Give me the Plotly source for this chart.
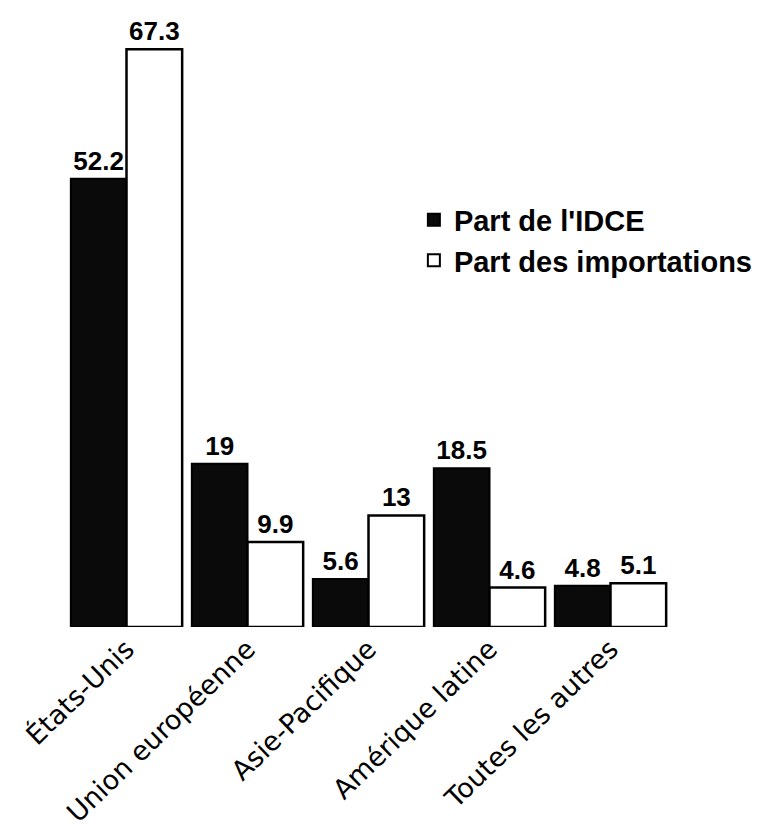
import plotly.graph_objects as go

# Data
regions = ["États-Unis", "Union européenne", "Asie-Pacifique", "Amérique latine", "Toutes les autres"]
part_idce = [52.2, 19, 5.6, 18.5, 4.8]
part_importations = [67.3, 9.9, 13, 4.6, 5.1]
labels_idce = ["52.2", "19", "5.6", "18.5", "4.8"]
labels_importations = ["67.3", "9.9", "13", "4.6", "5.1"]

value_font = dict(family="Liberation Sans, Arial, sans-serif", size=26, color="black", weight="bold")

fig = go.Figure()

fig.add_trace(go.Bar(
    x=regions, y=part_idce, name="Part de l'IDCE",
    text=labels_idce, textposition="outside", textfont=value_font,
    marker=dict(color="#0a0a0a", line=dict(color="black", width=2)),
    cliponaxis=False,
))
fig.add_trace(go.Bar(
    x=regions, y=part_importations, name="Part des importations",
    text=labels_importations, textposition="outside", textfont=value_font,
    marker=dict(color="white", line=dict(color="black", width=2.5)),
    cliponaxis=False,
))

fig.update_layout(
    width=762, height=832,
    margin=dict(l=57, r=97, t=18, b=210),
    barmode="group", bargap=0.08, bargroupgap=0,
    plot_bgcolor="white", paper_bgcolor="white",
    showlegend=True,
    legend=dict(
        x=0.575, y=0.72, xanchor="left", yanchor="top",
        font=dict(family="Liberation Sans, Arial, sans-serif", size=29, color="black", weight="bold"),
        bgcolor="rgba(0,0,0,0)", tracegroupgap=4, itemsizing="constant",
    ),
)

fig.update_xaxes(
    tickangle=-44, showgrid=False, showline=False, ticks="",
    tickfont=dict(family="DejaVu Sans, sans-serif", size=27, color="black"),
    range=[-0.5, 4.5],
)
fig.update_yaxes(
    range=[0, 70], visible=False, showgrid=False, zeroline=False,
)

fig.write_html("out.html")
